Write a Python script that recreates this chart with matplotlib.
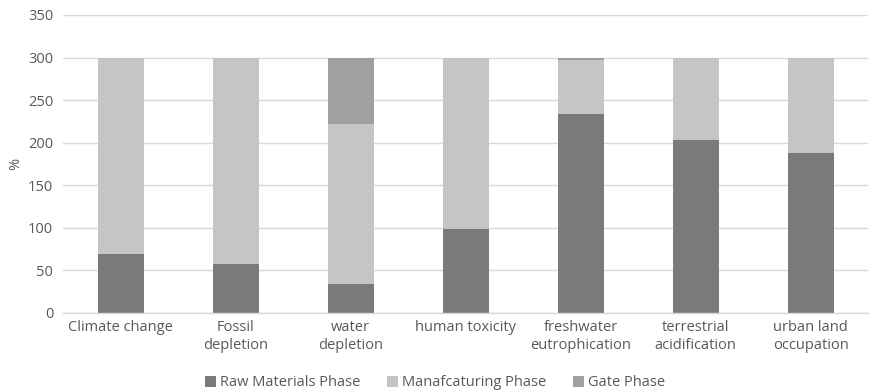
import matplotlib
matplotlib.use("Agg")
import matplotlib.pyplot as plt
import numpy as np

categories = ["Climate change", "Fossil\ndepletion", "water\ndepletion", "human toxicity",
              "freshwater\neutrophication", "terrestrial\nacidification", "urban land\noccupation"]
raw_materials = [69, 57, 34, 99, 234, 203, 188]
manufacturing = [231, 243, 188, 200, 63, 96.7, 111.5]
gate = [0, 0, 78, 1, 3, 0.3, 0.5]

series_names = ["Raw Materials Phase", "Manafcaturing Phase", "Gate Phase"]
colors = ["#7a7a7a", "#c4c5c5", "#a0a0a0"]
text_color = "#595959"
grid_color = "#d9d9d9"

plt.rcParams["font.family"] = ["Open Sans", "DejaVu Sans"]

fig = plt.figure(figsize=(8.69, 3.92), dpi=100)
ax = fig.add_axes([63 / 869, 1 - 313 / 392, 805 / 869, 298 / 392])

x = np.arange(len(categories))
width = 0.4
bottom = np.zeros(len(categories))
for vals, name, col in zip([raw_materials, manufacturing, gate], series_names, colors):
    vals = np.array(vals, dtype=float)
    ax.bar(x, vals, width, bottom=bottom, color=col, label=name, zorder=3)
    bottom += vals

ax.set_xlim(-0.5, len(categories) - 0.5)
ax.set_ylim(0, 350)
ax.set_yticks(np.arange(0, 351, 50))
ax.yaxis.grid(True, color=grid_color, linewidth=1, zorder=0)
ax.set_axisbelow(True)
for s in ["top", "right", "left"]:
    ax.spines[s].set_visible(False)
ax.spines["bottom"].set_color(grid_color)
ax.spines["bottom"].set_linewidth(1)
ax.spines["bottom"].set_zorder(4)

ax.set_xticks(x)
ax.set_xticklabels(categories, fontsize=10.5, color=text_color, linespacing=1.3)
ax.tick_params(axis="both", length=0, labelcolor=text_color, labelsize=10.5)
ax.tick_params(axis="x", pad=5)
ax.tick_params(axis="y", pad=7)
ax.set_ylabel("%", fontsize=10.5, color=text_color)
ax.yaxis.set_label_coords(-40 / 805, 0.5)

leg = fig.legend(loc="center", bbox_to_anchor=(435 / 869, 1 - 383 / 392), ncol=3,
                 frameon=False, fontsize=10.5, handlelength=0.75, handleheight=0.75,
                 handletextpad=0.3, columnspacing=1.8)
for t in leg.get_texts():
    t.set_color(text_color)

fig.savefig("out.png", dpi=100)
